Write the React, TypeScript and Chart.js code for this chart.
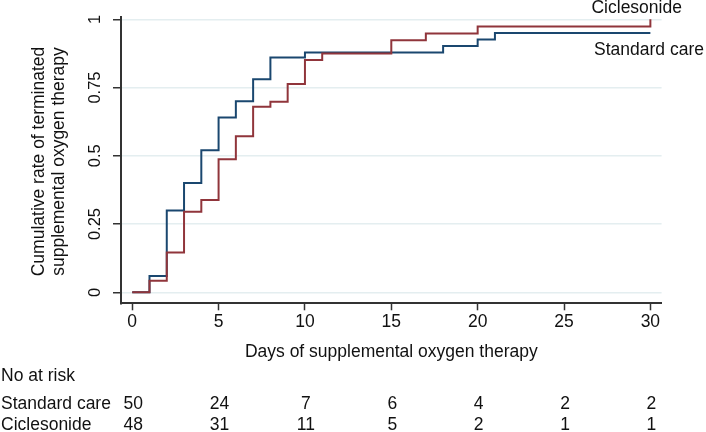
import React, { useEffect, useRef } from "react";
import { Chart, registerables } from "chart.js";

Chart.register(...registerables);

// ---- data ----
const stdDays = [0, 1, 2, 3, 4, 5, 6, 7, 8, 10, 18, 20, 21, 30];
const stdRate = [0, 0.06, 0.3, 0.4, 0.52, 0.64, 0.7, 0.78, 0.86, 0.878, 0.902, 0.926, 0.95, 0.95];
const cicDays = [0, 1, 2, 3, 4, 5, 6, 7, 8, 9, 10, 11, 15, 17, 20, 30];
const cicRate = [0, 0.042, 0.146, 0.295, 0.338, 0.487, 0.572, 0.68, 0.698, 0.763, 0.851, 0.875, 0.923, 0.948, 0.974, 1.0];

const xTicks = [0, 5, 10, 15, 20, 25, 30];
const yTicks = [0, 0.25, 0.5, 0.75, 1];
const yTickLabels = ["0", "0.25", "0.5", "0.75", "1"];

const riskTimes = [0, 5, 10, 15, 20, 25, 30];
const riskStd = [50, 24, 7, 6, 4, 2, 2];
const riskCic = [48, 31, 11, 5, 2, 1, 1];

const seriesNames = ["Standard care", "Ciclesonide"];
const xTitle = "Days of supplemental oxygen therapy";
const yTitle = ["Cumulative rate of terminated", "supplemental oxygen therapy"];
const riskTitle = "No at risk";

const BLUE = "#1a476f";
const RED = "#90353b";
const AXIS = "#333333";
const GRID = "#e4eef0";
const TEXT = "#111111";
const FONT = "'Liberation Sans', Arial, sans-serif";

const textPlugin = {
  id: "stataText",
  afterDraw(chart: any) {
    const ctx = chart.ctx as CanvasRenderingContext2D;
    const xs = chart.scales.x;
    const ys = chart.scales.y;
    const ca = chart.chartArea;
    ctx.save();
    ctx.fillStyle = TEXT;
    ctx.font = `17.5px ${FONT}`;
    ctx.textAlign = "center";
    ctx.textBaseline = "middle";
    // x tick labels
    xTicks.forEach((v) => {
      ctx.fillText(String(v), xs.getPixelForValue(v), 322);
    });
    // x title
    ctx.fillText(xTitle, (ca.left + ca.right) / 2, 352);
    // y tick labels (rotated)
    ctx.font = `16.5px ${FONT}`;
    yTicks.forEach((v, i) => {
      ctx.save();
      ctx.translate(95, ys.getPixelForValue(v));
      ctx.rotate(-Math.PI / 2);
      ctx.fillText(yTickLabels[i], 0, 0);
      ctx.restore();
    });
    // y title
    ctx.font = `17.5px ${FONT}`;
    ctx.textBaseline = "alphabetic";
    const yMid = 161.5;
    [44, 63.5].forEach((bx, i) => {
      ctx.save();
      ctx.translate(bx, yMid);
      ctx.rotate(-Math.PI / 2);
      ctx.fillText(yTitle[i], 0, 0);
      ctx.restore();
    });
    // curve labels
    ctx.textBaseline = "middle";
    ctx.fillText(seriesNames[1], 636.7, 8);
    ctx.fillText(seriesNames[0], 649, 50);
    // risk table
    ctx.textAlign = "left";
    ctx.fillText(riskTitle, 1, 376);
    ctx.fillText(seriesNames[0], 1, 404);
    ctx.fillText(seriesNames[1], 1, 425);
    ctx.textAlign = "center";
    riskTimes.forEach((t, i) => {
      const px = xs.getPixelForValue(t) + 1;
      ctx.fillText(String(riskStd[i]), px, 404);
      ctx.fillText(String(riskCic[i]), px, 425);
    });
    ctx.restore();
  },
};

export default function App() {
  const ref = useRef<HTMLCanvasElement | null>(null);
  useEffect(() => {
    if (!ref.current) return;
    const chart = new Chart(ref.current, {
      type: "line",
      data: {
        datasets: [
          {
            label: seriesNames[1],
            data: cicDays.map((d, i) => ({ x: d, y: cicRate[i] })),
            borderColor: RED,
            borderWidth: 2,
            stepped: true,
            pointRadius: 0,
            fill: false,
          },
          {
            label: seriesNames[0],
            data: stdDays.map((d, i) => ({ x: d, y: stdRate[i] })),
            borderColor: BLUE,
            borderWidth: 2,
            stepped: true,
            pointRadius: 0,
            fill: false,
          },
        ],
      },
      options: {
        responsive: false,
        animation: false,
        layout: { padding: { top: 17, right: 44.4, left: 0, bottom: 0 } },
        plugins: { legend: { display: false }, tooltip: { enabled: false } },
        scales: {
          x: {
            type: "linear",
            min: -0.65,
            max: 30.65,
            ticks: { stepSize: 5, includeBounds: false, display: false },
            grid: {
              drawOnChartArea: false,
              drawTicks: true,
              tickLength: 7,
              tickColor: AXIS,
              tickWidth: 1.5,
            },
            border: { display: true, color: AXIS, width: 2 },
            afterFit: (s: any) => {
              s.height = 432 - 303.3;
            },
          },
          y: {
            type: "linear",
            min: -0.0403,
            max: 1.0084,
            ticks: { stepSize: 0.25, includeBounds: false, display: false },
            grid: {
              color: GRID,
              lineWidth: 1.5,
              drawTicks: true,
              tickLength: 8,
              tickColor: AXIS,
              tickWidth: 1.5,
            },
            border: { display: true, color: AXIS, width: 2 },
            afterFit: (s: any) => {
              s.width = 121;
            },
          },
        },
      },
      plugins: [textPlugin],
    });
    return () => chart.destroy();
  }, []);
  return (
    <div style={{ position: "absolute", left: 0, top: 0, width: 706, height: 432, background: "#fff" }}>
      <canvas ref={ref} width={706} height={432} style={{ display: "block" }} />
    </div>
  );
}
